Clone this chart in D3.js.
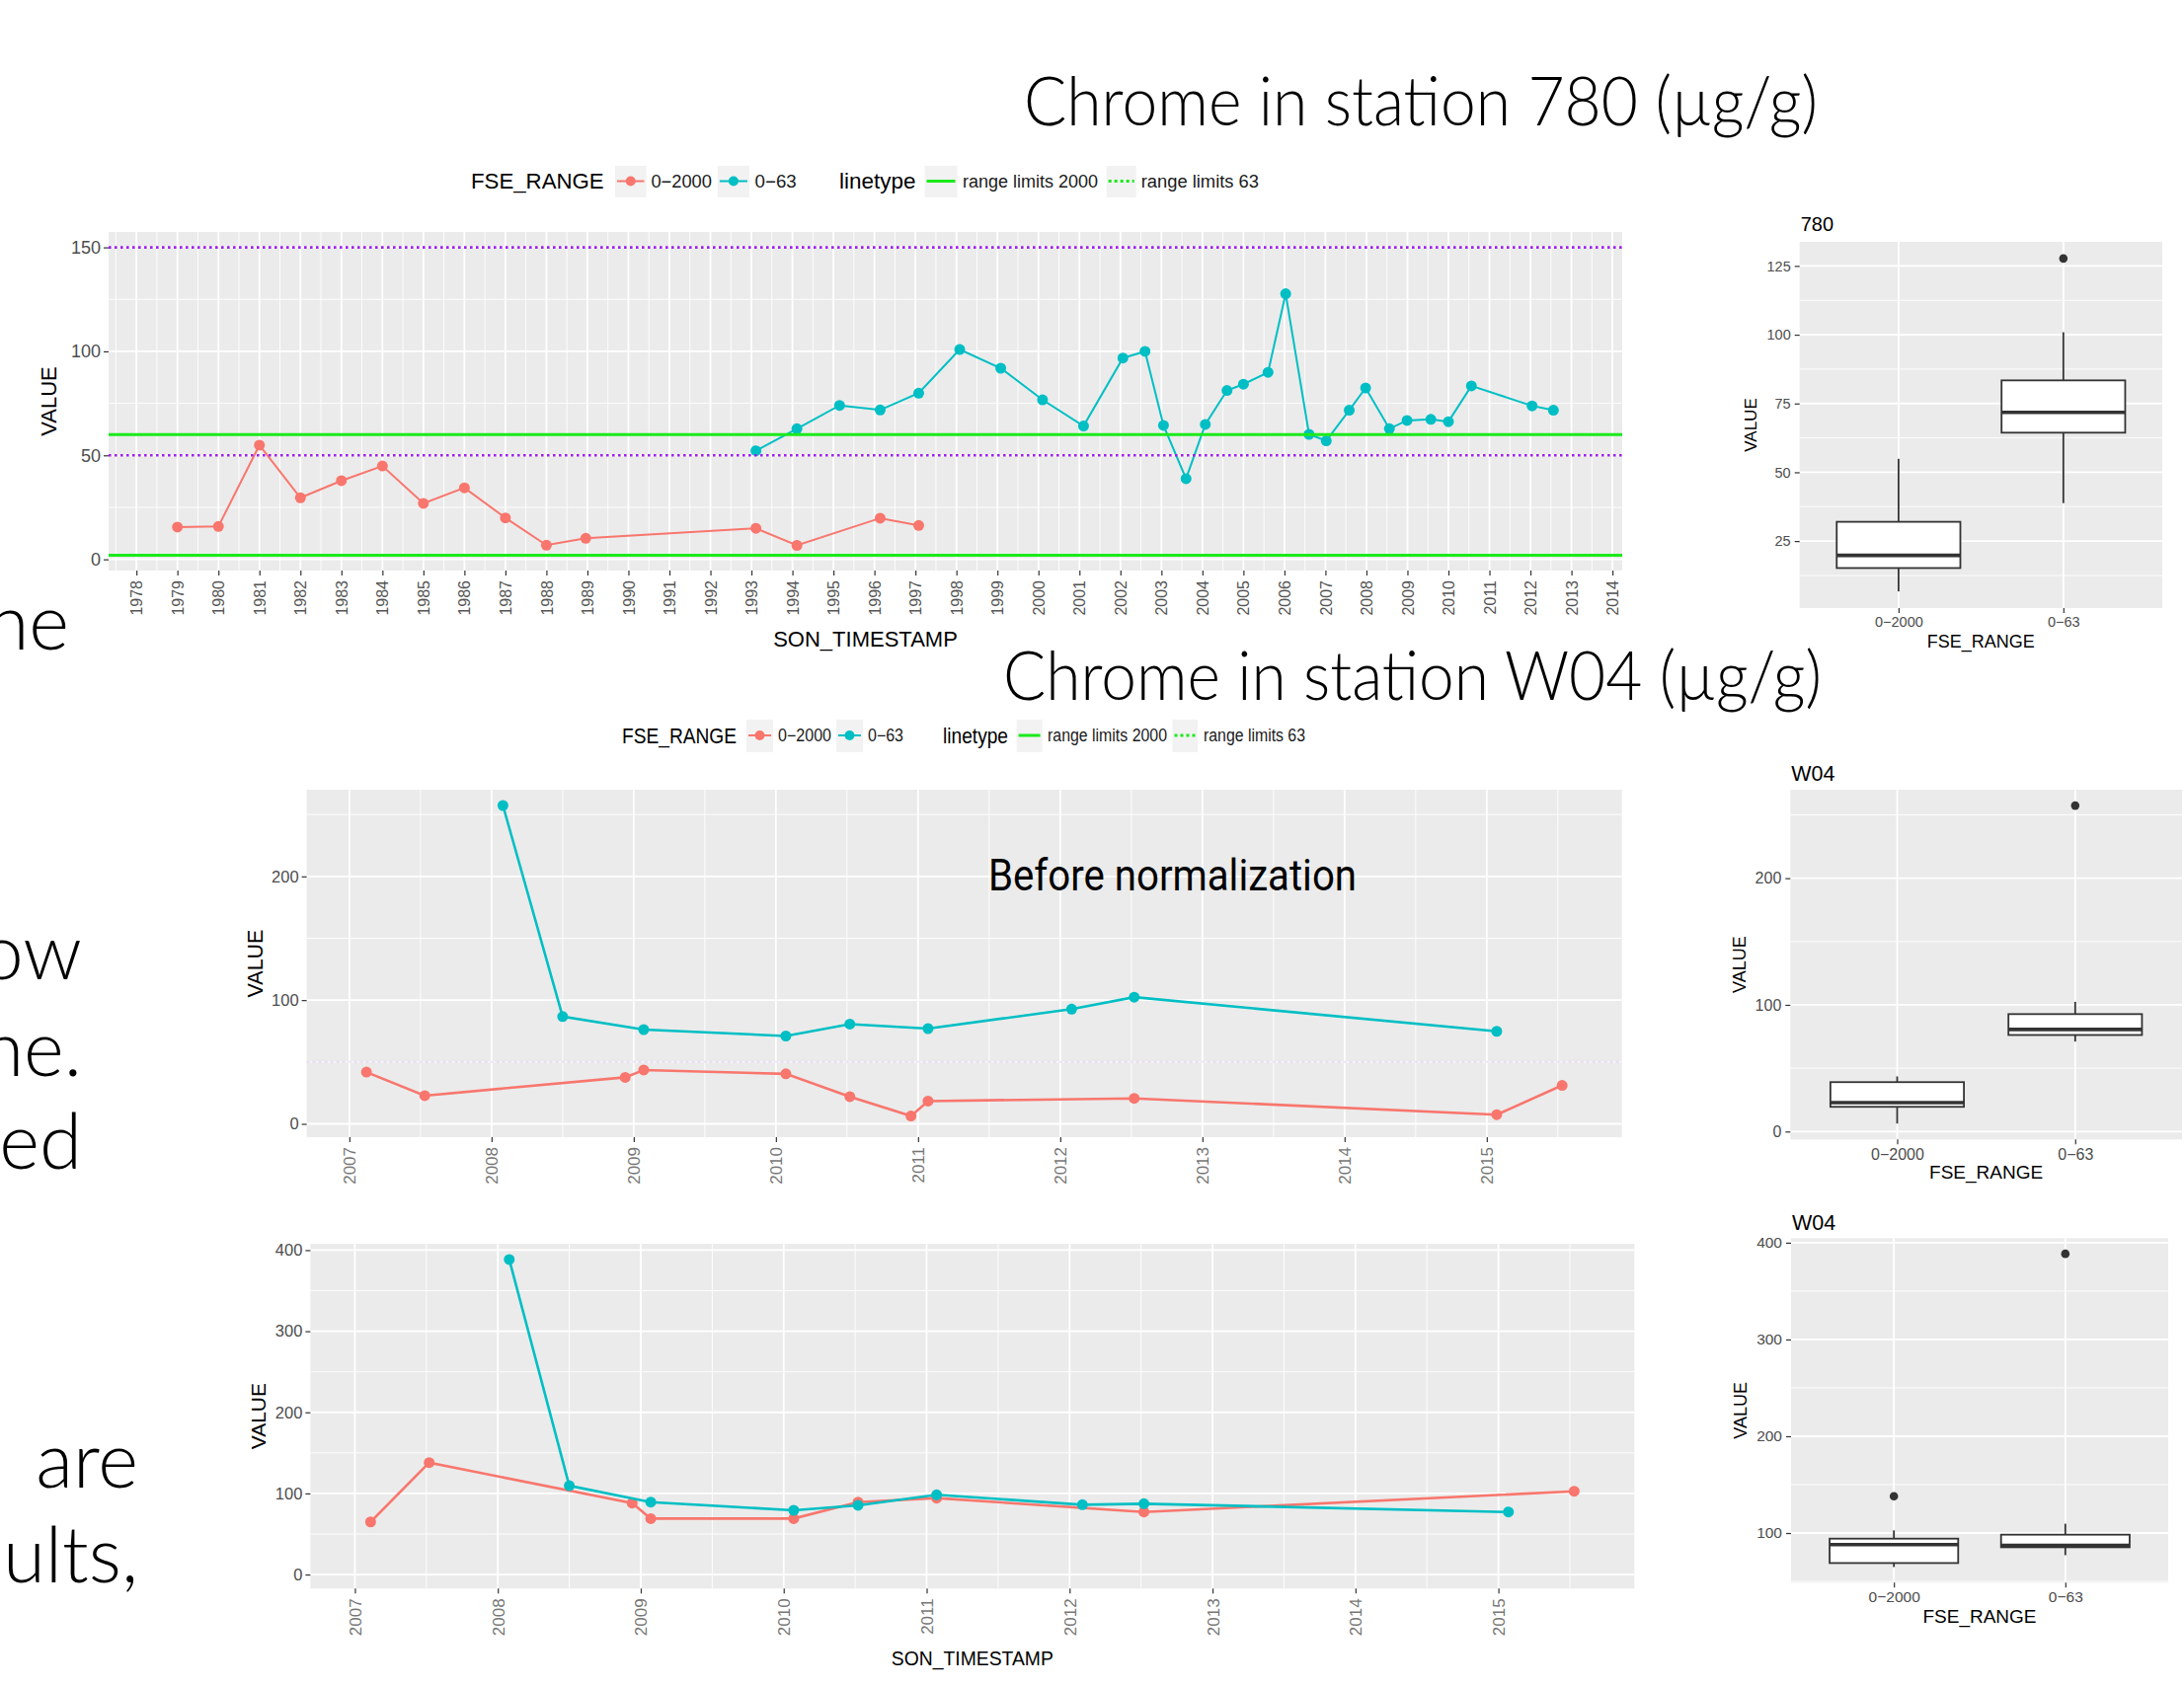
<!DOCTYPE html>
<html>
<head>
<meta charset="utf-8">
<script src="https://cdn.jsdelivr.net/npm/d3@7"></script>
<style>
  body { margin: 0; background: #fff; }
  .gg { font-family: "Liberation Sans", Arial, sans-serif; }
  .slide { font-family: Lato, "Open Sans", sans-serif; font-weight: 300; }
  .note { font-family: "Liberation Sans Narrow", Roboto, sans-serif; }
</style>
</head>
<body>
<svg id="chart" width="2212" height="1709"></svg>
<script>
// colours as ggplot uses them
const RED = "#F8766D", TEAL = "#00BFC4", GREEN = "#1BEA1B", PURPLE = "#A020F0"

// ---- data ----
const ranges = ["0−2000", "0−63"]
const limits2000 = [2, 60]     // solid green lines
const limits63 = [50, 150]     // dotted purple lines

// station 780
const fine780Years = [1979.0, 1980.0, 1981.0, 1982.0, 1983.0, 1984.0, 1985.0, 1986.0, 1987.0, 1988.0, 1988.96, 1993.11, 1994.11, 1996.14, 1997.08]
const fine780Values = [15.5, 15.8, 54.9, 29.6, 37.8, 44.9, 26.9, 34.4, 19.9, 6.8, 10.1, 14.9, 6.7, 19.8, 16.3]
const coarse780Years = [1993.11, 1994.11, 1995.15, 1996.14, 1997.08, 1998.08, 1999.08, 2000.1, 2001.1, 2002.06, 2002.6, 2003.05, 2003.6, 2004.07, 2004.6, 2005.0, 2005.6, 2006.03, 2006.6, 2007.02, 2007.58, 2007.98, 2008.56, 2008.99, 2009.57, 2010.0, 2010.56, 2012.04, 2012.56]
const coarse780Values = [52.2, 62.8, 74.0, 71.8, 79.9, 100.9, 91.9, 76.7, 64.1, 96.8, 100.0, 64.4, 38.8, 64.9, 81.2, 84.2, 89.9, 127.7, 60.1, 57.0, 71.7, 82.4, 62.8, 66.8, 67.3, 66.2, 83.4, 73.8, 71.7]

// station W04, before normalization
const fineW04Years = [2007.12, 2007.53, 2008.94, 2009.07, 2010.07, 2010.52, 2010.95, 2011.07, 2012.52, 2015.07, 2015.53]
const fineW04Values = [41.8, 22.8, 37.6, 43.5, 40.4, 22.0, 6.3, 18.4, 20.6, 7.4, 31.1]
const coarseW04Years = [2008.08, 2008.5, 2009.07, 2010.07, 2010.52, 2011.07, 2012.08, 2012.52, 2015.07]
const coarseW04Values = [257.3, 86.7, 76.2, 71.0, 80.6, 77.0, 92.7, 102.4, 74.8]

// station W04, normalized
const fineNormYears = [2007.11, 2007.52, 2008.94, 2009.07, 2010.07, 2010.52, 2011.07, 2012.52, 2015.53]
const fineNormValues = [64.9, 138.0, 88.1, 69.0, 69.0, 89.3, 94.2, 77.1, 102.7]
const coarseNormYears = [2008.08, 2008.5, 2009.07, 2010.07, 2010.52, 2011.07, 2012.09, 2012.52, 2015.07]
const coarseNormValues = [388.5, 109.6, 89.3, 79.2, 85.3, 98.3, 86.1, 87.3, 77.1]

// ticks
const yearTicks780 = d3.range(1978, 2015)
const yearTicksW04 = d3.range(2007, 2016)
const valueTicks780 = [0, 50, 100, 150]
const valueTicksW04 = [0, 100, 200]
const valueTicksNorm = [0, 100, 200, 300, 400]
const boxTicks780 = [25, 50, 75, 100, 125]
const boxTicksW04 = [0, 100, 200]
const boxTicksNorm = [100, 200, 300, 400]

const svg = d3.select("#chart")

// ggplot-like 5% padding of a continuous range
const expand = ext => { const d = (ext[1] - ext[0]) * 0.05; return [ext[0] - d, ext[1] + d] }

function styleAxis(a, size, color) {
  a.attr("font-family", null).attr("font-size", null)
  a.select(".domain").remove()
  a.selectAll("line").attr("stroke", "#333").attr("stroke-width", 1.2)
  a.selectAll("text").attr("font-size", size).attr("fill", color)
}

function gridLines(g, o, x, y, minorX, majorX, minorY, majorY) {
  const grid = g.append("g")
  grid.selectAll(".mnx").data(minorX).join("line")
    .attr("x1", x).attr("x2", x).attr("y1", o.y0).attr("y2", o.y1)
    .attr("stroke", "#fff").attr("stroke-width", 0.9)
  grid.selectAll(".mny").data(minorY).join("line")
    .attr("y1", y).attr("y2", y).attr("x1", o.x0).attr("x2", o.x1)
    .attr("stroke", "#fff").attr("stroke-width", 0.9)
  grid.selectAll(".mjx").data(majorX).join("line")
    .attr("x1", x).attr("x2", x).attr("y1", o.y0).attr("y2", o.y1)
    .attr("stroke", "#fff").attr("stroke-width", 1.8)
  grid.selectAll(".mjy").data(majorY).join("line")
    .attr("y1", y).attr("y2", y).attr("x1", o.x0).attr("x2", o.x1)
    .attr("stroke", "#fff").attr("stroke-width", 1.8)
}

function lineChart(o) {
  const allX = o.series.flatMap(s => s.years)
  const allY = o.series.flatMap(s => s.values).concat(limits2000, limits63)
  const x = d3.scaleLinear().domain(expand(d3.extent(allX))).range([o.x0, o.x1])
  const y = d3.scaleLinear().domain(expand(d3.extent(allY))).range([o.y1, o.y0])
  const [xd0, xd1] = x.domain(), [yd0, yd1] = y.domain()

  const g = svg.append("g").attr("class", "gg")
  g.append("rect").attr("x", o.x0).attr("y", o.y0)
    .attr("width", o.x1 - o.x0).attr("height", o.y1 - o.y0).attr("fill", "#EBEBEB")

  const yStep = o.yTicks[1] - o.yTicks[0]
  const minorX = d3.range(o.xTicks[0] - 0.5, xd1, 1).filter(v => v > xd0)
  const minorY = d3.range(o.yTicks[0] - yStep / 2, yd1, yStep).filter(v => v > yd0)
  gridLines(g, o, x, y, minorX, o.xTicks, minorY, o.yTicks)

  if (o.faint) {
    g.append("line").attr("x1", o.x0).attr("x2", o.x1).attr("y1", y(limits63[0])).attr("y2", y(limits63[0]))
      .attr("stroke", PURPLE).attr("stroke-opacity", 0.12).attr("stroke-width", 2).attr("stroke-dasharray", "3,3")
  }

  const line = d3.line().x(d => x(d[0])).y(d => y(d[1]))
  o.series.forEach(s => {
    const pts = d3.zip(s.years, s.values)
    g.append("path").datum(pts).attr("d", line)
      .attr("fill", "none").attr("stroke", s.color).attr("stroke-width", o.lw)
    g.selectAll(null).data(pts).join("circle")
      .attr("cx", d => x(d[0])).attr("cy", d => y(d[1])).attr("r", o.r).attr("fill", s.color)
  })

  if (o.limits) {
    limits2000.forEach(v => g.append("line").attr("x1", o.x0).attr("x2", o.x1)
      .attr("y1", y(v)).attr("y2", y(v)).attr("stroke", GREEN).attr("stroke-width", 3))
    limits63.forEach(v => g.append("line").attr("x1", o.x0).attr("x2", o.x1)
      .attr("y1", y(v)).attr("y2", y(v)).attr("stroke", PURPLE).attr("stroke-width", 2.6)
      .attr("stroke-dasharray", "2.6,3.4"))
  }

  const ya = g.append("g").attr("transform", `translate(${o.x0},0)`)
    .call(d3.axisLeft(y).tickValues(o.yTicks).tickSize(5).tickPadding(3))
  styleAxis(ya, o.yFont, "#4D4D4D")

  const xa = g.append("g").attr("transform", `translate(0,${o.y1})`)
    .call(d3.axisBottom(x).tickValues(o.xTicks).tickFormat(d3.format("d")).tickSize(5))
  styleAxis(xa, o.xFont, o.xColor)
  xa.selectAll("text").attr("transform", "rotate(-90)").attr("text-anchor", "end")
    .attr("x", -10).attr("y", 0).attr("dy", "0.35em")

  g.append("text").attr("transform", `translate(${o.valueX},${(o.y0 + o.y1) / 2}) rotate(-90)`)
    .attr("text-anchor", "middle").attr("dy", "0.35em").attr("font-size", o.titleFont).text("VALUE")
  if (o.timeY) {
    const t = g.append("text").attr("x", (o.x0 + o.x1) / 2).attr("y", o.timeY).attr("text-anchor", "middle")
      .attr("dy", "0.35em").attr("font-size", o.titleFont).text("SON_TIMESTAMP")
    if (o.timeW) t.attr("textLength", o.timeW).attr("lengthAdjust", "spacingAndGlyphs")
  }
}

function boxChart(o) {
  const groups = [{ name: ranges[0], values: o.fine }, { name: ranges[1], values: o.coarse }]
  const stats = groups.map(gr => {
    const v = gr.values.slice().sort(d3.ascending)
    const q1 = d3.quantile(v, 0.25), med = d3.quantile(v, 0.5), q3 = d3.quantile(v, 0.75)
    const iqr = q3 - q1
    const lo = d3.min(v.filter(d => d >= q1 - 1.5 * iqr)), hi = d3.max(v.filter(d => d <= q3 + 1.5 * iqr))
    return { name: gr.name, q1, med, q3, lo, hi, out: v.filter(d => d < lo || d > hi) }
  })
  const x = d3.scalePoint().domain(ranges).range([o.x0, o.x1]).padding(0.6)
  const y = d3.scaleLinear().domain(expand(d3.extent(groups.flatMap(d => d.values)))).range([o.y1, o.y0])
  const [yd0, yd1] = y.domain()
  const bw = x.step() * 0.75

  const g = svg.append("g").attr("class", "gg")
  g.append("rect").attr("x", o.x0).attr("y", o.y0)
    .attr("width", o.x1 - o.x0).attr("height", o.y1 - o.y0).attr("fill", "#EBEBEB")
  const yStep = o.yTicks[1] - o.yTicks[0]
  const minorY = d3.range(o.yTicks[0] - yStep / 2, yd1, yStep).filter(v => v > yd0)
  gridLines(g, o, x, y, [], ranges, minorY, o.yTicks)

  const b = g.selectAll(".box").data(stats).join("g")
  b.append("line").attr("x1", d => x(d.name)).attr("x2", d => x(d.name))
    .attr("y1", d => y(d.hi)).attr("y2", d => y(d.lo)).attr("stroke", "#333").attr("stroke-width", 1.8)
  b.append("rect").attr("x", d => x(d.name) - bw / 2).attr("width", bw)
    .attr("y", d => y(d.q3)).attr("height", d => y(d.q1) - y(d.q3))
    .attr("fill", "#fff").attr("stroke", "#333").attr("stroke-width", 1.8)
  b.append("line").attr("x1", d => x(d.name) - bw / 2).attr("x2", d => x(d.name) + bw / 2)
    .attr("y1", d => y(d.med)).attr("y2", d => y(d.med)).attr("stroke", "#333").attr("stroke-width", 3.6)
  b.selectAll("circle").data(d => d.out.map(v => [d.name, v])).join("circle")
    .attr("cx", d => x(d[0])).attr("cy", d => y(d[1])).attr("r", 4.3).attr("fill", "#333")

  const ya = g.append("g").attr("transform", `translate(${o.x0},0)`)
    .call(d3.axisLeft(y).tickValues(o.yTicks).tickSize(5).tickPadding(4))
  styleAxis(ya, o.tickFont, "#4D4D4D")
  const xa = g.append("g").attr("transform", `translate(0,${o.y1})`)
    .call(d3.axisBottom(x).tickSize(5).tickPadding(4))
  styleAxis(xa, o.tickFont, "#4D4D4D")

  g.append("text").attr("x", o.x0 + 1).attr("y", o.y0 - o.titleGap).attr("dy", "0.35em")
    .attr("font-size", o.titleFont).text(o.title)
  g.append("text").attr("transform", `translate(${o.valueX},${(o.y0 + o.y1) / 2}) rotate(-90)`)
    .attr("text-anchor", "middle").attr("dy", "0.35em").attr("font-size", o.axisFont).text("VALUE")
  g.append("text").attr("x", (o.x0 + o.x1) / 2).attr("y", o.rangeY).attr("text-anchor", "middle")
    .attr("dy", "0.35em").attr("font-size", o.axisFont + 1).text("FSE_RANGE")
}

function legend(l) {
  const g = svg.append("g").attr("class", "gg")
  l.items.forEach(([kind, x0, w, v]) => {
    if (kind === "title" || kind === "label") {
      g.append("text").attr("x", x0).attr("y", l.cy).attr("dy", "0.35em")
        .attr("font-size", kind === "title" ? l.titleSize : l.labelSize).attr("fill", kind === "title" ? "#000" : "#1a1a1a")
        .attr("textLength", w).attr("lengthAdjust", "spacingAndGlyphs").text(v)
      return
    }
    g.append("rect").attr("x", x0).attr("y", l.boxTop).attr("width", w).attr("height", l.boxH).attr("fill", "#F2F2F2")
    const ln = g.append("line").attr("x1", x0 + 2).attr("x2", x0 + w - 2).attr("y1", l.cy).attr("y2", l.cy)
      .attr("stroke", v).attr("stroke-width", kind === "point" ? 2 : 3)
    if (kind === "dash") ln.attr("stroke-dasharray", "3,3")
    if (kind === "point") g.append("circle").attr("cx", x0 + w / 2).attr("cy", l.cy).attr("r", 5).attr("fill", v)
  })
}

// ---- slide text ----
const slide = svg.append("g").attr("class", "slide")
slide.append("text").attr("x", 1037).attr("y", 127).attr("font-size", 68)
  .attr("textLength", 804).attr("lengthAdjust", "spacingAndGlyphs").text("Chrome in station 780 (µg/g)")
slide.append("text").attr("x", 1016).attr("y", 709).attr("font-size", 68)
  .attr("textLength", 829).attr("lengthAdjust", "spacingAndGlyphs").text("Chrome in station W04 (µg/g)")
const cut = [["ne", 70, 658], ["ow", 83, 992], ["ne.", 83, 1090], ["ed", 83, 1184], ["are", 140, 1507], ["ults,", 140, 1603]]
slide.selectAll(".cut").data(cut).join("text").attr("x", d => d[1]).attr("y", d => d[2])
  .attr("text-anchor", "end").attr("font-size", 78).text(d => d[0])

// ---- station 780 ----
legend({ cy: 183.5, boxTop: 168, boxH: 32, titleSize: 22, labelSize: 18, items: [
  ["title", 477, 134.7, "FSE_RANGE"], ["point", 623, 31.5, RED], ["label", 659.4, 61.6, ranges[0]],
  ["point", 726.8, 32.2, TEAL], ["label", 764.6, 42.1, ranges[1]], ["title", 850, 77.4, "linetype"],
  ["solid", 936.5, 33, GREEN], ["label", 975, 137, "range limits 2000"],
  ["dash", 1120.7, 30, GREEN], ["label", 1155.7, 119.3, "range limits 63"]] })

lineChart({ x0: 110, x1: 1643, y0: 235, y1: 578, lw: 2, r: 5.5, limits: true,
  series: [{ years: fine780Years, values: fine780Values, color: RED }, { years: coarse780Years, values: coarse780Values, color: TEAL }],
  xTicks: yearTicks780, yTicks: valueTicks780, yFont: 18, xFont: 16, xColor: "#555", titleFont: 22,
  valueX: 49, timeY: 647 })

boxChart({ x0: 1822.7, x1: 2190, y0: 245, y1: 616, fine: fine780Values, coarse: coarse780Values,
  yTicks: boxTicks780, tickFont: 14.5, title: "780", titleFont: 20, titleGap: 18, axisFont: 17,
  valueX: 1773, rangeY: 650 })

// ---- station W04, before normalization ----
legend({ cy: 745, boxTop: 729, boxH: 33, titleSize: 21.5, labelSize: 17.5, items: [
  ["title", 630, 116, "FSE_RANGE"], ["point", 756, 27, RED], ["label", 788, 54, ranges[0]],
  ["point", 847, 27, TEAL], ["label", 879, 36, ranges[1]], ["title", 955, 66, "linetype"],
  ["solid", 1029.6, 26, GREEN], ["label", 1061, 121, "range limits 2000"],
  ["dash", 1187.5, 25.5, GREEN], ["label", 1219, 103, "range limits 63"]] })

lineChart({ x0: 310.6, x1: 1642.7, y0: 800, y1: 1152, lw: 2.6, r: 5.5, limits: false, faint: true,
  series: [{ years: fineW04Years, values: fineW04Values, color: RED }, { years: coarseW04Years, values: coarseW04Values, color: TEAL }],
  xTicks: yearTicksW04, yTicks: valueTicksW04, yFont: 16.5, xFont: 17, xColor: "#777", titleFont: 21.5,
  valueX: 258 })

const noteG = svg.append("g").attr("class", "note")
noteG.append("text").attr("x", 1001).attr("y", 902).attr("font-size", 45)
  .attr("textLength", 373).attr("lengthAdjust", "spacingAndGlyphs").text("Before normalization")

boxChart({ x0: 1813.3, x1: 2210, y0: 800, y1: 1154.3, fine: fineW04Values, coarse: coarseW04Values,
  yTicks: boxTicksW04, tickFont: 16, title: "W04", titleFont: 21.5, titleGap: 17, axisFont: 18,
  valueX: 1762, rangeY: 1187 })

// ---- station W04, normalized ----
lineChart({ x0: 314.4, x1: 1655.3, y0: 1260, y1: 1609.3, lw: 2.6, r: 5.5, limits: false,
  series: [{ years: fineNormYears, values: fineNormValues, color: RED }, { years: coarseNormYears, values: coarseNormValues, color: TEAL }],
  xTicks: yearTicksW04, yTicks: valueTicksNorm, yFont: 16.5, xFont: 17, xColor: "#777", titleFont: 21,
  valueX: 261.5, timeY: 1680, timeW: 164 })

noteG.append("text").attr("x", 1113).attr("y", 1366).attr("font-size", 45)
  .attr("textLength", 293).attr("lengthAdjust", "spacingAndGlyphs").text("Normalized data")

boxChart({ x0: 1814, x1: 2196, y0: 1254.3, y1: 1603.3, fine: fineNormValues, coarse: coarseNormValues,
  yTicks: boxTicksNorm, tickFont: 15.5, title: "W04", titleFont: 21.5, titleGap: 16, axisFont: 18,
  valueX: 1763, rangeY: 1637 })
</script>
</body>
</html>
